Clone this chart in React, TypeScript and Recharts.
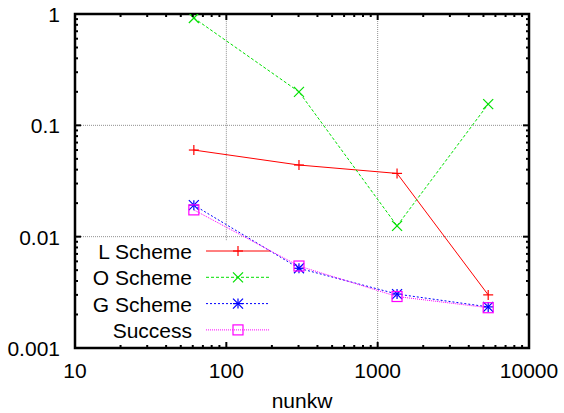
import React from 'react';
import { LineChart, Line, XAxis, YAxis, ReferenceLine, ReferenceArea, Legend } from 'recharts';

// values
const nunkw = [61, 302, 1343, 5375];
const lScheme = [0.06, 0.044, 0.037, 0.003];
const oScheme = [0.92, 0.2, 0.0125, 0.155];
const gScheme = [0.0192, 0.0052, 0.00305, 0.00234];
const success = [0.0174, 0.00545, 0.0029, 0.0023];

const X_MAJOR = [10, 100, 1000, 10000];
const X_MINOR = [20, 30, 40, 50, 60, 70, 80, 90, 200, 300, 400, 500, 600, 700, 800, 900, 2000, 3000, 4000, 5000, 6000, 7000, 8000, 9000];
const Y_MAJOR = [0.001, 0.01, 0.1, 1];
const Y_MINOR = [0.002, 0.003, 0.004, 0.005, 0.006, 0.007, 0.008, 0.009, 0.02, 0.03, 0.04, 0.05, 0.06, 0.07, 0.08, 0.09, 0.2, 0.3, 0.4, 0.5, 0.6, 0.7, 0.8, 0.9];
const Y_LABELS = ['0.001', '0.01', '0.1', '1'];

const data = nunkw.map((x, i) => ({
  x,
  l: lScheme[i],
  o: oScheme[i],
  g: gScheme[i],
  s: success[i],
}));

const W = 564;
const H = 413;
const PLOT_LEFT = 75;
const PLOT_RIGHT = 529;
const PLOT_TOP = 14;
const PLOT_BOTTOM = 348;
const FONT = '"Liberation Sans", Arial, Helvetica, sans-serif';

type MarkerKind = 'plus' | 'cross' | 'star' | 'square';

const SERIES: Array<{ key: string; name: string; color: string; dash?: string; marker: MarkerKind }> = [
  { key: 'l', name: 'L Scheme', color: '#ff0000', marker: 'plus' },
  { key: 'o', name: 'O Scheme', color: '#00e000', dash: '3 2', marker: 'cross' },
  { key: 'g', name: 'G Scheme', color: '#0000ff', dash: '2 2', marker: 'star' },
  { key: 's', name: 'Success', color: '#ff00ff', dash: '1 1', marker: 'square' },
];

const Marker = ({ cx, cy, kind, color }: { cx: number; cy: number; kind: MarkerKind; color: string }) => {
  const r = 5;
  const plus = (
    <>
      <line x1={cx - r} y1={cy} x2={cx + r} y2={cy} stroke={color} strokeWidth={1.2} />
      <line x1={cx} y1={cy - r} x2={cx} y2={cy + r} stroke={color} strokeWidth={1.2} />
    </>
  );
  const cross = (
    <>
      <line x1={cx - r} y1={cy - r} x2={cx + r} y2={cy + r} stroke={color} strokeWidth={1.2} />
      <line x1={cx - r} y1={cy + r} x2={cx + r} y2={cy - r} stroke={color} strokeWidth={1.2} />
    </>
  );
  if (kind === 'plus') return <g>{plus}</g>;
  if (kind === 'cross') return <g>{cross}</g>;
  if (kind === 'star') return <g>{plus}{cross}</g>;
  return <rect x={cx - r} y={cy - r} width={2 * r} height={2 * r} fill="none" stroke={color} strokeWidth={1.2} />;
};

const makeDot = (kind: MarkerKind, color: string) => (p: any) => (
  <Marker key={`${kind}-${p.index}`} cx={p.cx} cy={p.cy} kind={kind} color={color} />
);

// ticks on bottom + top, labels on majors only
const XTick = (props: any) => {
  const { x, payload } = props;
  const major = X_MAJOR.includes(payload.value);
  const len = major ? 6 : 3;
  return (
    <g>
      <line x1={x} y1={PLOT_BOTTOM} x2={x} y2={PLOT_BOTTOM - len} stroke="#000" strokeWidth={2} />
      <line x1={x} y1={PLOT_TOP} x2={x} y2={PLOT_TOP + len} stroke="#000" strokeWidth={2} />
      {major && (
        <text x={x} y={378} textAnchor="middle" fontSize={21} fontFamily={FONT} fill="#000">
          {payload.value}
        </text>
      )}
    </g>
  );
};

const YTick = (props: any) => {
  const { y, payload } = props;
  const mi = Y_MAJOR.indexOf(payload.value);
  const major = mi >= 0;
  const len = major ? 6 : 3;
  return (
    <g>
      <line x1={PLOT_LEFT} y1={y} x2={PLOT_LEFT + len} y2={y} stroke="#000" strokeWidth={2} />
      <line x1={PLOT_RIGHT} y1={y} x2={PLOT_RIGHT - len} y2={y} stroke="#000" strokeWidth={2} />
      {major && (
        <text x={60} y={y + 8} textAnchor="end" fontSize={21} fontFamily={FONT} fill="#000">
          {Y_LABELS[mi]}
        </text>
      )}
    </g>
  );
};

const KeyBox = () => (
  <svg width={200} height={110} style={{ display: 'block', overflow: 'visible' }}>
    {SERIES.map((s, i) => {
      const cy = 13 + i * 26.3;
      return (
        <g key={s.key}>
          <text x={102} y={cy + 8} textAnchor="end" fontSize={21} fontFamily={FONT} fill="#000">
            {s.name}
          </text>
          <line x1={116} y1={cy} x2={180} y2={cy} stroke={s.color} strokeWidth={1} strokeDasharray={s.dash} />
          <Marker cx={148} cy={cy} kind={s.marker} color={s.color} />
        </g>
      );
    })}
  </svg>
);

const gridStyle = { stroke: '#909090', strokeDasharray: '1 1', strokeWidth: 1 };

export default function App() {
  return (
    <div style={{ width: W, height: H, background: '#fff' }}>
      <style>{'body{margin:0}'}</style>
      <LineChart width={W} height={H} data={data} margin={{ top: PLOT_TOP, right: W - PLOT_RIGHT, left: 0, bottom: 0 }}>
        <XAxis
          xAxisId="x"
          dataKey="x"
          type="number"
          scale="log"
          domain={[10, 10000]}
          ticks={[...X_MAJOR, ...X_MINOR]}
          interval={0}
          allowDataOverflow
          height={H - PLOT_BOTTOM}
          axisLine={false}
          tickLine={false}
          tick={<XTick />}
        />
        <YAxis
          yAxisId="y"
          type="number"
          scale="log"
          domain={[0.001, 1]}
          ticks={[...Y_MAJOR, ...Y_MINOR]}
          interval={0}
          allowDataOverflow
          width={PLOT_LEFT}
          axisLine={false}
          tickLine={false}
          tick={<YTick />}
        />
        <ReferenceLine xAxisId="x" yAxisId="y" y={0.1} {...gridStyle} />
        <ReferenceLine xAxisId="x" yAxisId="y" y={0.01} {...gridStyle} />
        <ReferenceLine xAxisId="x" yAxisId="y" x={1000} {...gridStyle} />
        <ReferenceLine
          xAxisId="x"
          yAxisId="y"
          segment={[{ x: 100, y: 0.0093 }, { x: 100, y: 1 }]}
          {...gridStyle}
        />
        {SERIES.map((s) => (
          <Line
            key={s.key}
            xAxisId="x"
            yAxisId="y"
            type="linear"
            dataKey={s.key}
            name={s.name}
            stroke={s.color}
            strokeWidth={1}
            strokeDasharray={s.dash}
            dot={makeDot(s.marker, s.color)}
            activeDot={false}
            isAnimationActive={false}
          />
        ))}
        <ReferenceArea
          xAxisId="x"
          yAxisId="y"
          x1={10}
          x2={10000}
          y1={0.001}
          y2={1}
          fill="none"
          fillOpacity={0}
          stroke="#000"
          strokeWidth={2.5}
        />
        <Legend
          layout="horizontal"
          verticalAlign="middle"
          align="center"
          content={() => <KeyBox />}
          wrapperStyle={{ left: 90, top: 238, width: 200, height: 110 }}
        />
      </LineChart>
      <div
        style={{
          position: 'absolute',
          left: 0,
          top: 390,
          width: (PLOT_LEFT + PLOT_RIGHT),
          textAlign: 'center',
          fontFamily: FONT,
          fontSize: 21,
          lineHeight: '21px',
        }}
      >
        nunkw
      </div>
    </div>
  );
}
